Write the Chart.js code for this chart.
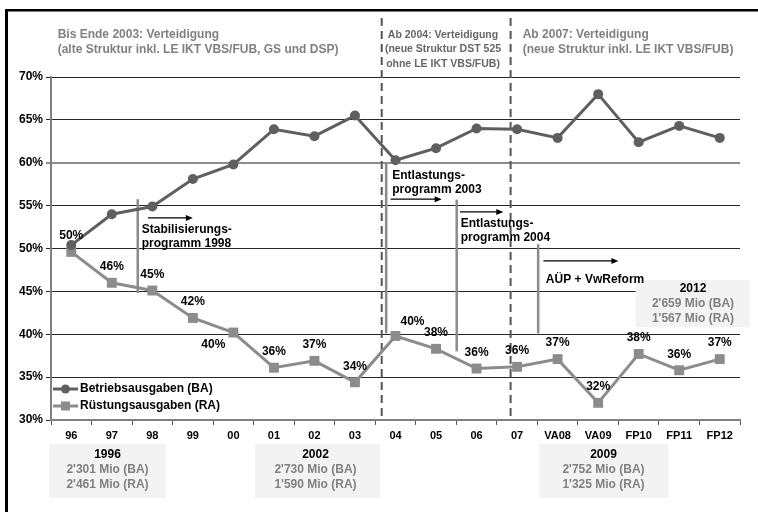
<!DOCTYPE html>
<html><head><meta charset="utf-8">
<script src="https://cdn.jsdelivr.net/npm/chart.js@4.4.1/dist/chart.umd.min.js"></script>
<style>html,body{margin:0;padding:0;background:#fff;} #wrap{width:758px;height:512px;position:relative;}</style>
</head><body><div id="wrap"><canvas id="c" width="758" height="512"></canvas></div>
<script>
// ---- data ----
const categories = ['96','97','98','99','00','01','02','03','04','05','06','07','VA08','VA09','FP10','FP11','FP12'];
const seriesNames = ['Betriebsausgaben (BA)', 'Rüstungsausgaben (RA)'];
const betriebsausgaben = [50.4,54.0,54.9,58.1,59.8,63.9,63.1,65.5,60.3,61.7,64.0,63.9,62.9,68.0,62.4,64.3,62.9];
const ruestungsausgaben = [49.6,46.0,45.1,41.9,40.2,36.1,36.9,34.4,39.8,38.3,36.0,36.2,37.1,32.0,37.7,35.8,37.1];
const yTickValues = [30,35,40,45,50,55,60,65,70];
const yTickLabels = ['30%','35%','40%','45%','50%','55%','60%','65%','70%'];
const summaryYears = ['1996','2002','2009','2012'];
const summaryBA = ["2'301 Mio (BA)","2'730 Mio (BA)","2'752 Mio (BA)","2'659 Mio (BA)"];
const summaryRA = ["2'461 Mio (RA)","1'590 Mio (RA)","1'325 Mio (RA)","1'567 Mio (RA)"];
const periodTitles = [
  ['Bis Ende 2003: Verteidigung','(alte Struktur inkl. LE IKT VBS/FUB, GS und DSP)'],
  ['Ab 2004: Verteidigung','(neue Struktur DST 525','ohne LE IKT VBS/FUB)'],
  ['Ab 2007: Verteidigung','(neue Struktur inkl. LE IKT VBS/FUB)']
];
const programLabels = [['Stabilisierungs-','programm 1998'],['Entlastungs-','programm 2003'],['Entlastungs-','programm 2004'],['AÜP + VwReform']];

// ---- annotation geometry (category-index / value units) ----
const dividers = [7.66, 10.84];
const programLines = [{x:1.64,y0:44.8,y1:55.75},{x:7.77,y0:40.1,y1:60.1},{x:9.51,y0:38.0,y1:55.7},{x:11.52,y0:40.1,y1:50.5}];
const programArrows = [{x0:1.89,x1:3.0,y:53.57},{x0:7.88,x1:9.14,y:55.75},{x0:9.59,x1:10.66,y:54.27},{x0:11.65,x1:13.5,y:48.55}];
const programText = [{x:1.74,y:52.2},{x:7.92,y:58.5},{x:9.61,y:52.9},{x:11.71,y:46.4}];
const labelOffsets = {4:[-20,12], 8:[17,-14]};

const FONT = '"Liberation Sans", Arial, sans-serif';
const BA_COLOR = '#5f5f5f', RA_COLOR = '#8c8c8c';

function txt(ctx, s, x, y, size, color, align){
  ctx.font = 'bold ' + size + 'px ' + FONT;
  ctx.fillStyle = color; ctx.textAlign = align || 'left'; ctx.textBaseline = 'middle';
  ctx.fillText(s, x, y);
}

const decor = {
  id: 'decor',
  beforeDraw(chart){
    const ctx = chart.ctx; ctx.save();
    ctx.fillStyle = '#fff'; ctx.fillRect(0,0,chart.width,chart.height);
    ctx.fillStyle = '#000';
    ctx.fillRect(5, 9, chart.width - 5, 2.5);
    ctx.fillRect(5, 9, 3, chart.height - 9);
    ctx.restore();
  },
  beforeDatasetsDraw(chart){
    const ctx = chart.ctx, xs = chart.scales.x, ys = chart.scales.y;
    ctx.save();
    periodTitles[0].forEach((s,i)=>txt(ctx, s, 57.7, 35 + i*15, 12, '#808080'));
    periodTitles[1].forEach((s,i)=>txt(ctx, s, 443, 35 + i*14.5, 10.5, '#666666', 'center'));
    periodTitles[2].forEach((s,i)=>txt(ctx, s, 522.7, 35 + i*15, 12, '#808080'));
    ctx.strokeStyle = '#555'; ctx.lineWidth = 2; ctx.setLineDash([8,5]);
    dividers.forEach(d=>{ const x = xs.getPixelForValue(d); ctx.beginPath(); ctx.moveTo(x, 18); ctx.lineTo(x, ys.bottom); ctx.stroke(); });
    ctx.setLineDash([]);
    ctx.strokeStyle = '#8c8c8c'; ctx.lineWidth = 2.5;
    programLines.forEach(l=>{ const x = xs.getPixelForValue(l.x); ctx.beginPath(); ctx.moveTo(x, ys.getPixelForValue(l.y0)); ctx.lineTo(x, ys.getPixelForValue(l.y1)); ctx.stroke(); });
    ctx.strokeStyle = '#000'; ctx.fillStyle = '#000'; ctx.lineWidth = 1.2;
    programArrows.forEach(a=>{
      const x0 = xs.getPixelForValue(a.x0), x1 = xs.getPixelForValue(a.x1), y = ys.getPixelForValue(a.y);
      ctx.beginPath(); ctx.moveTo(x0, y); ctx.lineTo(x1 - 5, y); ctx.stroke();
      ctx.beginPath(); ctx.moveTo(x1, y); ctx.lineTo(x1 - 7, y - 3); ctx.lineTo(x1 - 7, y + 3); ctx.closePath(); ctx.fill();
    });
    const boxes = [
      {x0:49.3,x1:165.7,y0:444,y1:498.3,cx:107.5,ty:455},
      {x0:255,x1:380,y0:444,y1:498.3,cx:315.5,ty:455},
      {x0:539.3,x1:668.3,y0:444,y1:498.3,cx:603.5,ty:455},
      {x0:635.7,x1:750,y0:280,y1:327.3,cx:693,ty:288.3}
    ];
    boxes.forEach((b,i)=>{
      ctx.fillStyle = '#f3f3f3'; ctx.fillRect(b.x0, b.y0, b.x1-b.x0, b.y1-b.y0);
      txt(ctx, summaryYears[i], b.cx, b.ty, 12, '#000', 'center');
      txt(ctx, summaryBA[i], b.cx, b.ty + 15, 12, '#808080', 'center');
      txt(ctx, summaryRA[i], b.cx, b.ty + 30, 12, '#808080', 'center');
    });
    programLabels.forEach((lines,k)=>{
      const p = programText[k], x = xs.getPixelForValue(p.x), y = ys.getPixelForValue(p.y);
      lines.forEach((s,i)=>txt(ctx, s, x, y + i*14.5, 12, '#000'));
    });
    ctx.restore();
  },
  afterDatasetsDraw(chart){
    const ctx = chart.ctx; ctx.save();
    const meta = chart.getDatasetMeta(1);
    meta.data.forEach((pt,i)=>{
      const off = labelOffsets[i] || [0,-16];
      txt(ctx, Math.round(ruestungsausgaben[i]) + '%', pt.x + off[0], pt.y + off[1], 12, '#000', 'center');
    });
    chart.data.datasets.forEach((ds,i)=>{
      const y = 389 + i*17;
      ctx.strokeStyle = ds.borderColor; ctx.lineWidth = 3;
      ctx.beginPath(); ctx.moveTo(53, y); ctx.lineTo(78, y); ctx.stroke();
      ctx.fillStyle = ds.backgroundColor;
      if (ds.pointStyle === 'circle') { ctx.beginPath(); ctx.arc(65.5, y, 4.5, 0, Math.PI*2); ctx.fill(); }
      else { ctx.fillRect(61, y-4.5, 9, 9); }
      txt(ctx, ds.label, 80, y, 12, '#000');
    });
    ctx.restore();
  }
};

new Chart(document.getElementById('c'), {
  type: 'line',
  data: { labels: categories, datasets: [
    { label: seriesNames[0], data: betriebsausgaben, borderColor: BA_COLOR, backgroundColor: BA_COLOR, borderWidth: 3, pointStyle: 'circle', pointRadius: 5, pointBorderWidth: 0, tension: 0 },
    { label: seriesNames[1], data: ruestungsausgaben, borderColor: RA_COLOR, backgroundColor: RA_COLOR, borderWidth: 3, pointStyle: 'rect', pointRadius: 7, pointBorderWidth: 0, tension: 0 }
  ]},
  options: {
    responsive: false, animation: false, devicePixelRatio: 1,
    layout: { padding: { top: 77, right: 18, left: 0, bottom: 0 } },
    plugins: { legend: { display: false }, tooltip: { enabled: false } },
    scales: {
      x: {
        offset: true,
        grid: { offset: true, drawOnChartArea: false, drawTicks: true, tickLength: 5, color: '#555', lineWidth: 1 },
        border: { display: true, color: '#808080', width: 2 },
        ticks: { color: '#000', font: { family: FONT, size: 11, weight: 'bold' }, padding: 4, maxRotation: 0, autoSkip: false },
        afterFit(s){ s.height = 92; }
      },
      y: {
        min: 30, max: 70,
        afterBuildTicks(s){ s.ticks = yTickValues.map(v=>({value:v})); },
        grid: { color: c => (c.tick && c.tick.value === 60) ? '#8c8c8c' : '#262626', lineWidth: c => (c.tick && c.tick.value === 60) ? 2 : 1, tickLength: 5, drawTicks: true },
        border: { display: true, color: '#808080', width: 2 },
        ticks: { color: '#000', font: { family: FONT, size: 12, weight: 'bold' }, padding: 3, callback: v => yTickLabels[yTickValues.indexOf(v)] },
        afterFit(s){ s.width = 51; }
      }
    }
  },
  plugins: [decor]
});
</script></body></html>
